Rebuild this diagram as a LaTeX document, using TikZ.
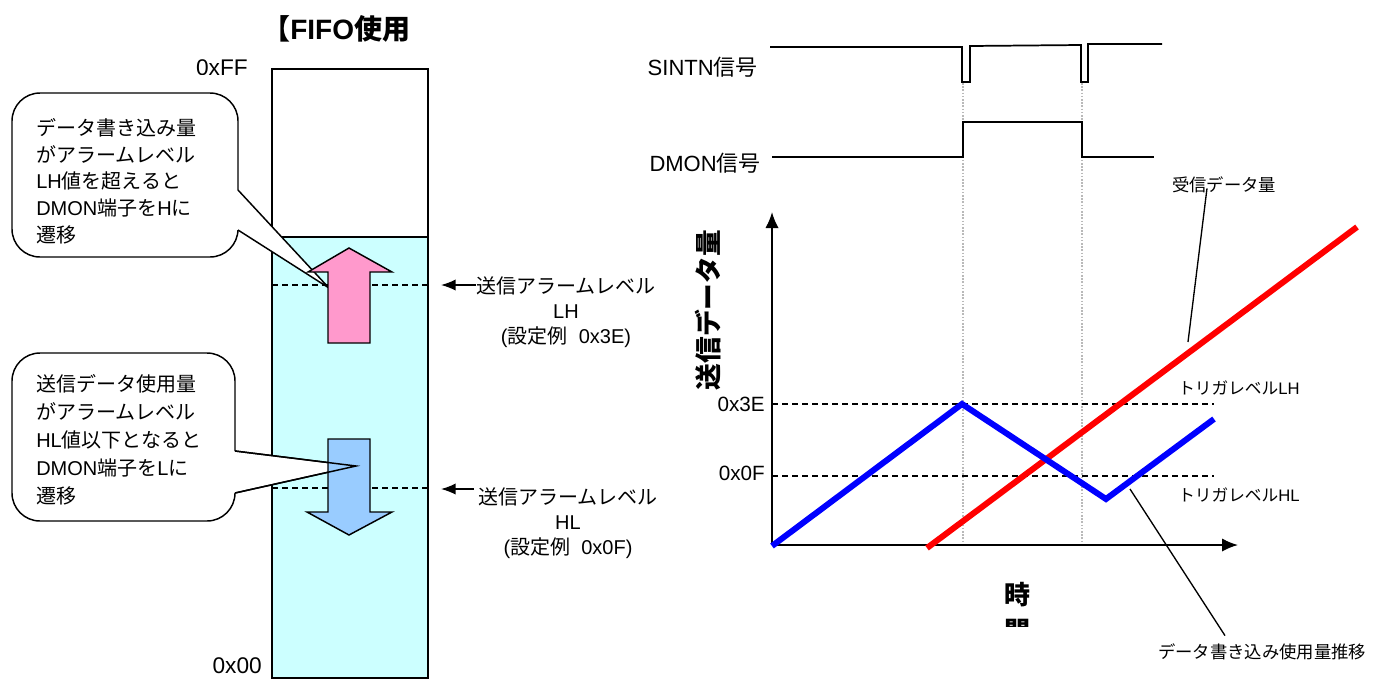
\documentclass[tikz,border=0pt]{standalone}
\usepackage{fontspec}
\setmainfont{Noto Sans CJK JP}
\newfontfamily\lat{Liberation Sans}
\usetikzlibrary{arrows.meta}
\definecolor{fifocyan}{HTML}{CCFFFF}
\definecolor{pinkarrow}{HTML}{FF99CC}
\definecolor{bluearrow}{HTML}{99CCFF}
\begin{document}
\begin{tikzpicture}[x=0.75pt,y=-0.75pt,
  outl/.style={line width=1.1pt, line join=miter},
  dashlvl/.style={line width=1.1pt, dash pattern=on 4.5pt off 3pt},
  lbl/.style={font=\fontsize{15}{20}\selectfont, inner sep=0pt},
  siglbl/.style={font=\fontsize{16.5}{20}\selectfont, inner sep=0pt},
  fifolbl/.style={font=\fontsize{17}{20}\selectfont\lat, inner sep=0pt},
  smalllbl/.style={font=\fontsize{12.5}{15}\selectfont, inner sep=0pt},
  bigbold/.style={font=\fontsize{20}{27}\selectfont\bfseries, inner sep=0pt},
  callout/.style={outl, fill=white, rounded corners=21pt},
  ptr/.style={-{Latex[length=11pt,width=8.5pt]}, line width=1.1pt},
  axis/.style={-{Latex[length=12pt,width=10pt]}, line width=1.4pt},
  sig/.style={line width=1.3pt},
  guide/.style={gray!55, line width=1pt, dash pattern=on 1.2pt off 1.2pt},
  trace/.style={line width=4.5pt},
  leader/.style={line width=1pt}
]
\useasboundingbox (0,0) rectangle (1386,679);

% ---------- title ----------
\node[bigbold, anchor=west, font=\fontsize{21}{27}\selectfont\bfseries] (title) at (262,29) {【{\lat\bfseries FIFO}使用};

% ---------- FIFO column ----------
\fill[fifocyan] (272,237) rectangle (428,678);
\draw[outl] (272,237) -- (428,237);
\draw[outl] (272,69) rectangle (428,678);
\draw[dashlvl] (272,285) -- (428,285);
\draw[dashlvl] (272,488) -- (428,488);

\begin{scope}
\clip (150,40) rectangle (265,74.5);
\node[fifolbl, anchor=east] (ff) at (248,68) {0xFF};
\end{scope}
\node[fifolbl, anchor=east] (zero) at (262,666) {0x00};

% ---------- callout 1 ----------
\draw[callout] (12,93) rectangle (238,257);
\fill[white] (226,190) -- (238,190) -- (329,288) -- (238,230) -- (226,230) -- cycle;
\coordinate (c1tip) at (329,288);
\draw[outl] (238,190) -- (c1tip) -- (238,230);
\node[lbl, anchor=west, align=left, font=\fontsize{15}{20}\selectfont] (c1text) at (36,181)
 {データ書き込み量\\がアラームレベル\\{\lat LH}値を超えると\\{\lat DMON}端子を{\lat H}に\\遷移};

% ---------- callout 2 ----------
\draw[callout] (12,353) rectangle (235,521);
\fill[white] (223,451) -- (235,451) -- (356,466) -- (235,493) -- (223,493) -- cycle;
\coordinate (c2tip) at (356,466);
\draw[outl] (235,451) -- (c2tip) -- (235,493);
\node[lbl, anchor=west, align=left, font=\fontsize{15}{21}\selectfont] (c2text) at (36,440)
 {送信データ使用量\\がアラームレベル\\{\lat HL}値以下となると\\{\lat DMON}端子を{\lat L}に\\遷移};

% ---------- block arrows ----------
\draw[outl, fill=pinkarrow] (328,343) -- (328,272) -- (308,272) -- (349,248) -- (392,272) -- (370,272) -- (370,343) -- cycle;
\draw[outl, fill=bluearrow] (328,439) -- (370,439) -- (370,512) -- (392,512) -- (349,535) -- (307,512) -- (328,512) -- cycle;
\draw[outl] (235,451) -- (c2tip) -- (235,493);

% ---------- level labels ----------
\node[lbl, align=center, font=\fontsize{15}{18.75}\selectfont] (lhlbl) at (566,312)
 {送信アラームレベル\\{\lat LH}\\{\lat (}設定例{\lat\ \ 0x3E)}};
\coordinate (lhtip) at (441,285);
\draw[ptr] (lhlbl.west |- lhtip) -- (lhtip);
\node[lbl, align=center, font=\fontsize{15}{18.75}\selectfont] (hllbl) at (568,523)
 {送信アラームレベル\\{\lat HL}\\{\lat (}設定例{\lat\ \ 0x0F)}};
\coordinate (hltip) at (441,489);
\draw[ptr, shorten <=3pt] (hllbl.west |- hltip) -- (hltip);

% ---------- signals ----------
\node[siglbl, anchor=east] (sintn) at (758,67) {{\lat SINTN}信号};
\node[siglbl, anchor=east] (dmon) at (761,163) {{\lat DMON}信号};
\draw[guide] (963,83) -- (963,545);
\draw[guide] (1082,83) -- (1082,545);
\draw[sig] (770,47) -- (962,47) -- (962,82) -- (970,82) -- (970,46) -- (1081,45) -- (1081,82) -- (1088,82) -- (1088,44) -- (1162,44);
\draw[sig] (772,157) -- (963,157) -- (963,122) -- (1082,122) -- (1082,157) -- (1154,157);

% ---------- chart ----------
\coordinate (origin) at (772,545);
\coordinate (ytop) at (772,212);
\coordinate (xend) at (1238,545);
\draw[dashlvl] (772,404) -- (1214,404);
\draw[dashlvl] (772,476) -- (1214,476);
\draw[axis] (origin) -- (ytop);
\draw[axis] (origin) -- (xend);
\node[lbl, anchor=east, font=\fontsize{15.5}{18}\selectfont\lat] (l3e) at (765,404) {0x3E};
\node[lbl, anchor=east, font=\fontsize{15.5}{18}\selectfont\lat] (l0f) at (765,473) {0x0F};
\node[bigbold, rotate=90] (ylabel) at (708,310) {送信データ量};
\begin{scope}
\clip (950,565) rectangle (1085,626);
\node[bigbold, align=center, font=\fontsize{19.5}{27}\selectfont\bfseries] (xlabel) at (1017,613) {時\\間};
\end{scope}

\draw[trace, red] (927,548) -- (1357,227);
\draw[trace, blue] (772,546) -- (962,404) -- (1106,499) -- (1214,419);

\node[smalllbl, anchor=west] (trlh) at (1178,388) {トリガレベル{\lat LH}};
\node[smalllbl, anchor=west] (trhl) at (1178,495) {トリガレベル{\lat HL}};
\node[smalllbl, font=\fontsize{13}{15}\selectfont] (recv) at (1224,185) {受信データ量};
\node[smalllbl, font=\fontsize{13}{15}\selectfont] (wr) at (1262,652) {データ書き込み使用量推移};
\coordinate (recvend) at (1188,342);
\coordinate (wrend) at (1130,489);
\draw[leader] (recv.south -| 1207,0) ++(0,-5) -- (recvend);
\draw[leader] (wr.north -| 1225,0) ++(0,-8) -- (wrend);
\end{tikzpicture}
\end{document}
